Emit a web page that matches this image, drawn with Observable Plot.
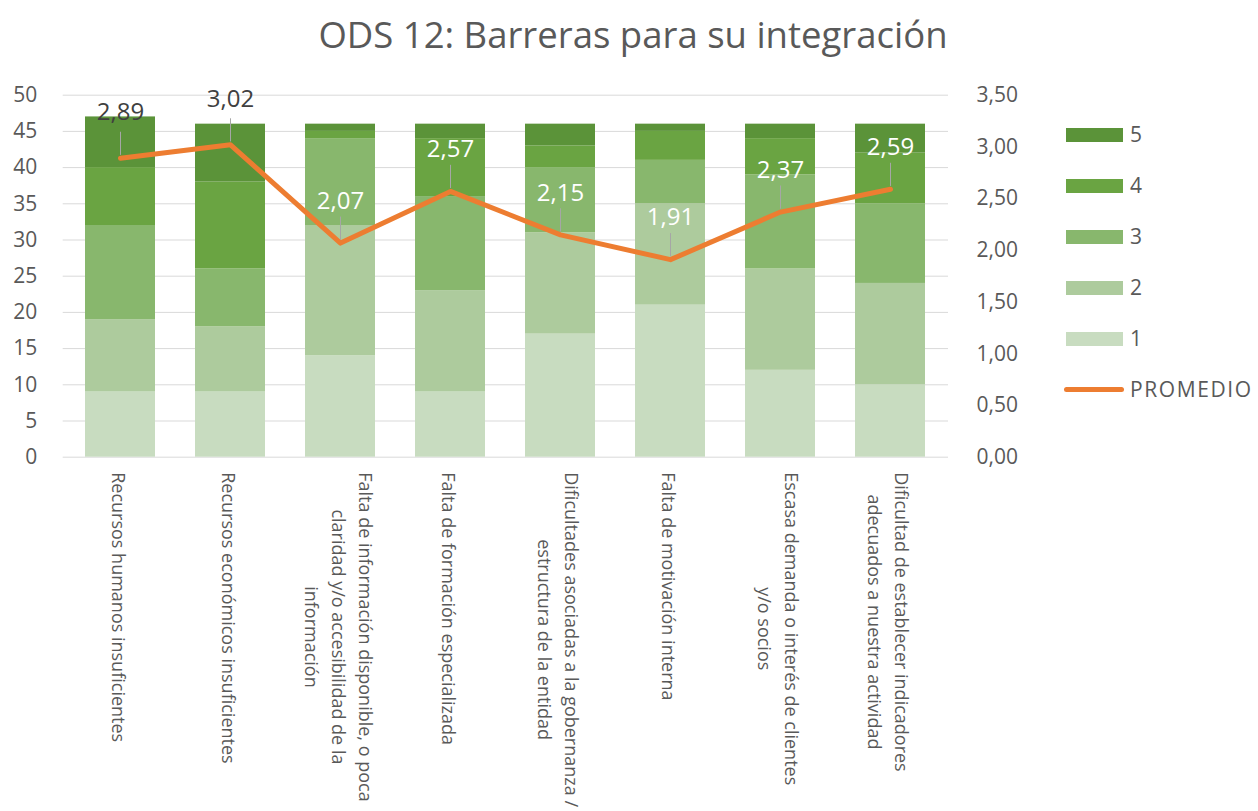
<!DOCTYPE html>
<html>
<head>
<meta charset="utf-8">
<script src="https://cdn.jsdelivr.net/npm/d3@7"></script>
<script src="https://cdn.jsdelivr.net/npm/@observablehq/plot@0.6"></script>
<style>
  html, body { margin: 0; padding: 0; background: #ffffff; }
  #wrap { position: relative; width: 1258px; height: 811px; overflow: hidden; font-family: "Open Sans", sans-serif; }
  #title { height: 70px; line-height: 68px; text-align: center; font-size: 36.5px; color: #595959; padding-left: 8px; box-sizing: border-box; }
  #legend { position: absolute; left: 1064px; top: 118px; color: #595959; font-size: 21px; }
  .lg { position: relative; height: 51px; }
  .sw { position: absolute; left: 2px; top: 10px; width: 57px; height: 14px; }
  .ln { position: absolute; left: 0px; top: 14px; width: 60px; height: 5px; border-radius: 3px; background: #ed7d31; }
  .lt { position: absolute; left: 66px; top: 1px; line-height: 30px; white-space: nowrap; }
  .lt.wide { letter-spacing: 1.6px; }
  #chart svg { display: block; }
</style>
</head>
<body>
<div id="wrap">
  <div id="title">ODS 12: Barreras para su integración</div>
  <div id="chart"></div>
  <div id="legend"></div>
</div>
<script>
const categories = [
  "Recursos humanos insuficientes",
  "Recursos económicos insuficientes",
  "Falta de información disponible, o poca claridad y/o accesibilidad de la información",
  "Falta de formación especializada",
  "Dificultades asociadas a la gobernanza / estructura de la entidad",
  "Falta de motivación interna",
  "Escasa demanda o interés de clientes y/o socios",
  "Dificultad de establecer indicadores adecuados a nuestra actividad"
];
const tickLabels = [
  "Recursos humanos insuficientes",
  "Recursos económicos insuficientes",
  "Falta de información disponible, o poca\nclaridad y/o accesibilidad de la\ninformación",
  "Falta de formación especializada",
  "Dificultades asociadas a la gobernanza /\nestructura de la entidad",
  "Falta de motivación interna",
  "Escasa demanda o interés de clientes\ny/o socios",
  "Dificultad de establecer indicadores\nadecuados a nuestra actividad"
];
const levels = ["1", "2", "3", "4", "5"];
const score1 = [9, 9, 14, 9, 17, 21, 12, 10];
const score2 = [10, 9, 18, 14, 14, 14, 14, 14];
const score3 = [13, 8, 12, 13, 9, 6, 13, 11];
const score4 = [8, 12, 1, 8, 3, 4, 5, 7];
const score5 = [7, 8, 1, 2, 3, 1, 2, 4];
const promedio = [2.89, 3.02, 2.07, 2.57, 2.15, 1.91, 2.37, 2.59];
const leftTicks = [0, 5, 10, 15, 20, 25, 30, 35, 40, 45, 50];
const rightTicks = [0, 0.5, 1, 1.5, 2, 2.5, 3, 3.5];
const levelColors = ["#c8dcc0", "#adcb9d", "#88b76d", "#6aa442", "#5b9339"];
const lineColor = "#ed7d31";

const series = [score1, score2, score3, score4, score5];
const rows = levels.flatMap((lv, j) => categories.map((c, i) => ({cat: c, level: lv, value: series[j][i]})));
const k = 50 / 3.5; // right axis (0–3,5) mapped onto left axis (0–50)
const avg = categories.map((c, i) => ({cat: c, v: promedio[i], y: promedio[i] * k}));
const fmt = v => v.toFixed(2).replace(".", ",");

// measure the longest line of each tick label so the centred block starts just below the axis
const tickFont = 18;
const ctx = document.createElement("canvas").getContext("2d");
ctx.font = `${tickFont}px "Open Sans"`;
const longest = tickLabels.map(t => Math.max(...t.split("\n").map(s => ctx.measureText(s).width)));

const tickMarks = categories.map((c, i) =>
  Plot.text([c], {x: d => d, frameAnchor: "bottom", text: () => tickLabels[i], rotate: 90,
    textAnchor: "middle", lineAnchor: "middle", lineHeight: 1.5, fontSize: tickFont, fill: "#595959",
    dy: 15 + longest[i] / 2})
);

const chart = Plot.plot({
  width: 1258,
  height: 741,
  marginTop: 24.7,
  marginBottom: 354.3,
  marginLeft: 62.7,
  marginRight: 310,
  style: {fontFamily: "Open Sans", background: "#ffffff", color: "#595959"},
  x: {domain: categories, paddingInner: 0.36, paddingOuter: 0.18, axis: null, label: null},
  y: {domain: [0, 50]},
  color: {domain: levels, range: levelColors},
  marks: [
    Plot.gridY(leftTicks, {stroke: "#d9d9d9", strokeOpacity: 1, strokeWidth: 1}),
    Plot.barY(rows, {x: "cat", y: "value", fill: "level"}),
    Plot.axisY(leftTicks, {anchor: "left", tickSize: 0, tickPadding: 26, fontSize: 21, fill: "#595959", label: null}),
    Plot.axisY(rightTicks.map(t => t * k), {anchor: "right", tickSize: 0, tickPadding: 28, fontSize: 21, fill: "#595959", label: null,
      tickFormat: d => fmt(d / k)}),
    ...tickMarks,
    Plot.ruleX(avg, {x: "cat", y1: d => d.y + 0.4, y2: d => d.y + 3.6, stroke: "#a6a6a6", strokeWidth: 1}),
    Plot.line(avg, {x: "cat", y: "y", stroke: lineColor, strokeWidth: 5, strokeLinejoin: "round", strokeLinecap: "round"}),
    Plot.text(avg.filter(d => d.v > 2.8), {x: "cat", y: "y", text: d => fmt(d.v), dy: -46, fontSize: 24, fill: "#404040"}),
    Plot.text(avg.filter(d => d.v <= 2.8), {x: "cat", y: "y", text: d => fmt(d.v), dy: -42, fontSize: 24, fill: "#ffffff"})
  ]
});
document.getElementById("chart").appendChild(chart);

const legend = document.getElementById("legend");
[...levels].reverse().forEach(lv => {
  const row = document.createElement("div");
  row.className = "lg";
  const sw = document.createElement("div");
  sw.className = "sw";
  sw.style.background = levelColors[levels.indexOf(lv)];
  const t = document.createElement("div");
  t.className = "lt";
  t.textContent = lv;
  row.appendChild(sw); row.appendChild(t);
  legend.appendChild(row);
});
{
  const row = document.createElement("div");
  row.className = "lg";
  const ln = document.createElement("div");
  ln.className = "ln";
  const t = document.createElement("div");
  t.className = "lt wide";
  t.textContent = "PROMEDIO";
  row.appendChild(ln); row.appendChild(t);
  legend.appendChild(row);
}
</script>
</body>
</html>
